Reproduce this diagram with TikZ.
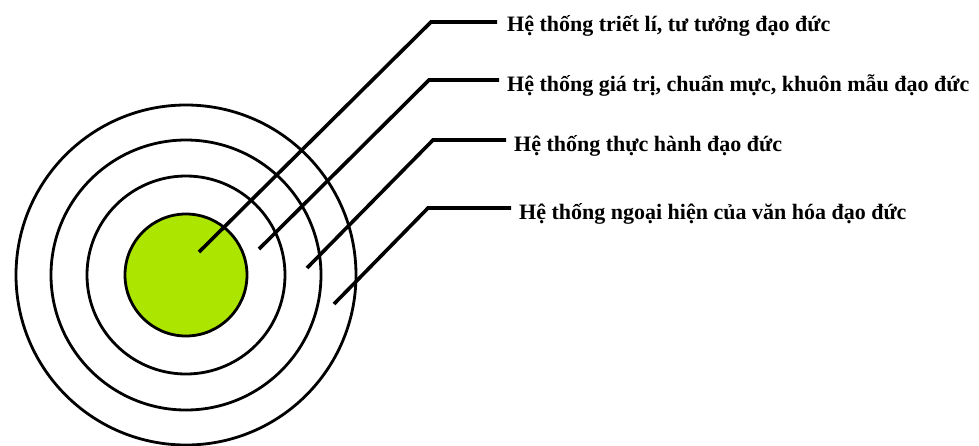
\documentclass[tikz,border=0pt]{standalone}
\usepackage{fontspec}
\setmainfont{Liberation Serif}
\definecolor{coregreen}{RGB}{172,230,0}
\begin{document}
\begin{tikzpicture}[x=1pt,y=-1pt,
  ring/.style={draw=black,line width=2.8pt},
  leader/.style={draw=black,line width=3.6pt,line join=miter},
  label/.style={anchor=base west,inner sep=0pt,font=\bfseries\fontsize{22}{26}\selectfont}]
\useasboundingbox (0,0) rectangle (979,445);
\fill[white] (0,0) rectangle (979,445);
\node[circle,ring,minimum size=340pt,inner sep=0pt] (r4) at (186,275) {};
\node[circle,ring,minimum size=270pt,inner sep=0pt] (r3) at (186,275) {};
\node[circle,ring,minimum size=198pt,inner sep=0pt] (r2) at (186,275) {};
\node[circle,ring,fill=coregreen,minimum size=122pt,inner sep=0pt] (r1) at (186,275) {};
\coordinate (s1) at (199,252);
\coordinate (s2) at (259,249);
\coordinate (s3) at (307,268);
\coordinate (s4) at (334,304);
\coordinate (k1) at (431,22);
\coordinate (k2) at (429,80);
\coordinate (k3) at (433,140);
\coordinate (k4) at (428,208);
\node[label] (t1) at (507,31) {Hệ thống triết lí, tư tưởng đạo đức};
\node[label] (t2) at (507,91) {Hệ thống giá trị, chuẩn mực, khuôn mẫu đạo đức};
\node[label] (t3) at (514,151) {Hệ thống thực hành đạo đức};
\node[label] (t4) at (519,219) {Hệ thống ngoại hiện của văn hóa đạo đức};
\draw[leader] (s1) -- (k1) -- ([xshift=-10pt]k1 -| t1.west);
\draw[leader] (s2) -- (k2) -- ([xshift=-8pt]k2 -| t2.west);
\draw[leader] (s3) -- (k3) -- ([xshift=-8pt]k3 -| t3.west);
\draw[leader] (s4) -- (k4) -- ([xshift=-8pt]k4 -| t4.west);
\end{tikzpicture}
\end{document}
